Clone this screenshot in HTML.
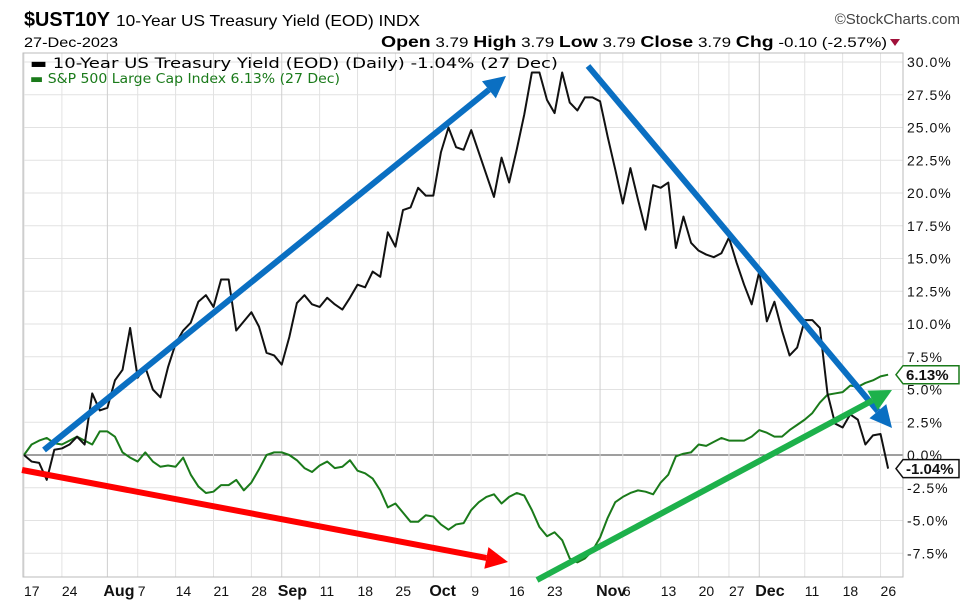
<!DOCTYPE html>
<html><head><meta charset="utf-8">
<style>
html,body{margin:0;padding:0;background:#fff;}
svg{display:block;font-family:"Liberation Sans",sans-serif;}
</style></head>
<body>
<svg id="chart" width="975" height="615" viewBox="0 0 975 615" xmlns="http://www.w3.org/2000/svg">
  <text x="24" y="26" font-size="20" font-weight="bold" textLength="86" lengthAdjust="spacingAndGlyphs">$UST10Y</text>
  <text x="116" y="26" font-size="16" textLength="304" lengthAdjust="spacingAndGlyphs">10-Year US Treasury Yield (EOD) INDX</text>
  <text x="960" y="24" font-size="15" fill="#444" text-anchor="end">©StockCharts.com</text>
  <text x="24" y="47" font-size="14" textLength="94" lengthAdjust="spacingAndGlyphs">27-Dec-2023</text>
  <text x="381" y="47" font-size="14" textLength="506" lengthAdjust="spacingAndGlyphs"><tspan font-weight="bold" font-size="16">Open</tspan> 3.79  <tspan font-weight="bold" font-size="16">High</tspan> 3.79  <tspan font-weight="bold" font-size="16">Low</tspan> 3.79  <tspan font-weight="bold" font-size="16">Close</tspan> 3.79  <tspan font-weight="bold" font-size="16">Chg</tspan> -0.10 (-2.57%)</text>
  <polygon points="890,39 900,39 895,46" fill="#a0103a"/>
  <g id="grid"></g>
  <rect x="23" y="53" width="880" height="524" fill="none" stroke="#bbb" stroke-width="1"/>
  <g id="series"></g>
  <g id="arrows"></g>
  <g id="axes"></g>
  <text x="30" y="68" font-size="14" font-family="DejaVu Sans,sans-serif" textLength="528" lengthAdjust="spacingAndGlyphs">▬ 10-Year US Treasury Yield (EOD) (Daily) -1.04% (27 Dec)</text>
  <text x="30" y="83" font-size="13" fill="#1a7a1a" font-family="DejaVu Sans,sans-serif" textLength="310" lengthAdjust="spacingAndGlyphs">▬ S&amp;P 500 Large Cap Index 6.13% (27 Dec)</text>
</svg>
<script>
const tickIdx = [0,5,11,15,20,25,30,34,39,44,49,54,59,64,69,76,79,84,89,93,97,103,108,113];
const tickLabels = ["17","24","Aug","7","14","21","28","Sep","11","18","25","Oct","9","16","23","Nov","6","13","20","27","Dec","11","18","26"];
const yTicks = [30,27.5,25,22.5,20,17.5,15,12.5,10,7.5,5,2.5,0,-2.5,-5,-7.5];
const treasury = [0,-0.5,-0.6,-1.9,0.4,0.5,0.8,1.4,0.8,4.7,3.4,3.6,5.7,6.5,9.7,5.9,6.7,5.0,4.4,6.7,8.5,9.5,10.1,11.7,12.2,11.3,13.4,13.4,9.5,10.2,10.9,9.8,7.8,7.6,6.9,9.0,11.6,12.2,11.5,11.3,12.0,11.5,11.1,12.0,13.0,12.8,14.0,13.6,17.0,15.9,18.7,18.9,20.4,19.8,19.8,23.1,25.0,23.5,23.3,24.8,23.1,21.4,19.7,22.7,20.8,23.3,26.0,29.2,29.2,27.1,26.1,29.2,26.9,26.3,27.3,27.3,27.0,24.3,21.8,19.2,21.9,19.5,17.2,20.6,20.4,20.8,15.8,18.2,16.2,15.6,15.3,15.1,15.4,16.6,14.7,13.0,11.5,14.0,10.2,11.7,9.5,7.6,8.2,10.3,10.3,9.7,4.7,2.4,2.1,3.1,2.7,0.8,1.5,1.6,-1.04];
const sp500 = [0,0.8,1.1,1.3,0.9,0.8,1.1,1.4,1.1,0.8,1.8,1.8,1.4,0.2,-0.2,-0.5,0.2,-0.5,-0.9,-0.8,-0.9,-0.2,-1.5,-2.4,-2.9,-2.8,-2.3,-2.3,-1.9,-2.7,-2.1,-1.1,0,0.2,0.2,0,-0.4,-1.0,-1.3,-0.8,-0.5,-1.0,-0.9,-0.4,-1.2,-1.4,-1.8,-2.7,-4.0,-3.7,-4.4,-5.1,-5.1,-4.6,-4.7,-5.3,-5.7,-5.3,-5.2,-4.2,-3.6,-3.2,-3.0,-3.7,-3.2,-2.9,-3.1,-4.2,-5.5,-6.2,-5.9,-6.5,-7.9,-8.2,-7.9,-7.3,-6.3,-4.8,-3.6,-3.2,-2.9,-2.7,-2.8,-3.0,-2.1,-1.5,-0.1,0.1,0.2,0.8,0.7,1.0,1.3,1.1,1.1,1.1,1.4,1.9,1.7,1.4,1.4,1.9,2.3,2.7,3.2,4.0,4.6,4.7,4.8,5.3,5.2,5.5,5.7,6.0,6.13];

const NS='http://www.w3.org/2000/svg';
const X0=24, DX=7.58, Y0=455, PPU=13.1;
function xs(i){return X0+i*DX;}
function ys(v){return Y0-v*PPU;}
function mk(tag,attrs,parent){const e=document.createElementNS(NS,tag);for(const k in attrs)e.setAttribute(k,attrs[k]);parent.appendChild(e);return e;}
const grid=document.getElementById('grid'), axes=document.getElementById('axes'), series=document.getElementById('series'), arrows=document.getElementById('arrows');

yTicks.forEach(v=>{
  const y=ys(v);
  const l=mk('line',{x1:23,x2:903,y1:y,y2:y,stroke:v===0?'#666':'#e2e2e2','stroke-width':v===0?1.2:1},grid);
  
  
  const t=mk('text',{x:907,y:y+5,'font-size':14,fill:'#111','letter-spacing':1},axes);
  t.textContent=v.toFixed(1)+'%';
  
  
});
tickIdx.forEach((i,k)=>{
  const x=xs(i), isM=isNaN(parseInt(tickLabels[k]));
  const l=mk('line',{x1:x,x2:x,y1:53,y2:577,stroke:isM?'#cfcfcf':'#e2e2e2','stroke-width':1},grid);
  
  
  const t=mk('text',{x:x+(isM?-4:0),y:596,'font-size':isM?16:14,'font-weight':isM?'bold':'normal',fill:'#111'},axes);
  t.textContent=tickLabels[k];
  
  
});

function line(data,color,name){
  const p=mk('polyline',{points:data.map((v,i)=>xs(i)+','+ys(v)).join(' '),fill:'none',stroke:color,'stroke-width':2,'stroke-linejoin':'round'},series);
  
  
}
line(sp500,'#1a7a1a','sp500-line');
line(treasury,'#111','treasury-line');

function arrow(x1,y1,x2,y2,color,name){
  const g=mk('g',{},arrows);
  
  
  const dx=x2-x1, dy=y2-y1, L=Math.hypot(dx,dy), ux=dx/L, uy=dy/L, px=-uy, py=ux, h=22, w=11;
  const bx=x2-ux*h, by=y2-uy*h;
  mk('line',{x1:x1,y1:y1,x2:bx,y2:by,stroke:color,'stroke-width':6},g);
  mk('polygon',{points:`${x2},${y2} ${bx+px*w},${by+py*w} ${bx-px*w},${by-py*w}`,fill:color},g);
}
arrow(44,450,506,76,'#0a6fc2','uptrend-arrow-blue');
arrow(588,66,892,428,'#0a6fc2','downtrend-arrow-blue');
arrow(22,470,508,562,'#ff0000','downtrend-arrow-red');
arrow(537,580,892,390,'#1db14b','uptrend-arrow-green');

function tag(v,color,name){
  const y=ys(v);
  const g=mk('g',{},axes);
  
  
  mk('polygon',{points:`${896},${y} ${903},${y-9} ${959},${y-9} ${959},${y+9} ${903},${y+9}`,fill:'#fff',stroke:color,'stroke-width':1.5},g);
  const t=mk('text',{x:906,y:y+5.5,'font-size':15,'font-weight':'bold',fill:'#111'},g);
  t.textContent=v.toFixed(2)+'%';
}
tag(sp500[sp500.length-1],'#1a7a1a','sp500-value-tag');
tag(treasury[treasury.length-1],'#111','treasury-value-tag');
</script>
</body></html>
